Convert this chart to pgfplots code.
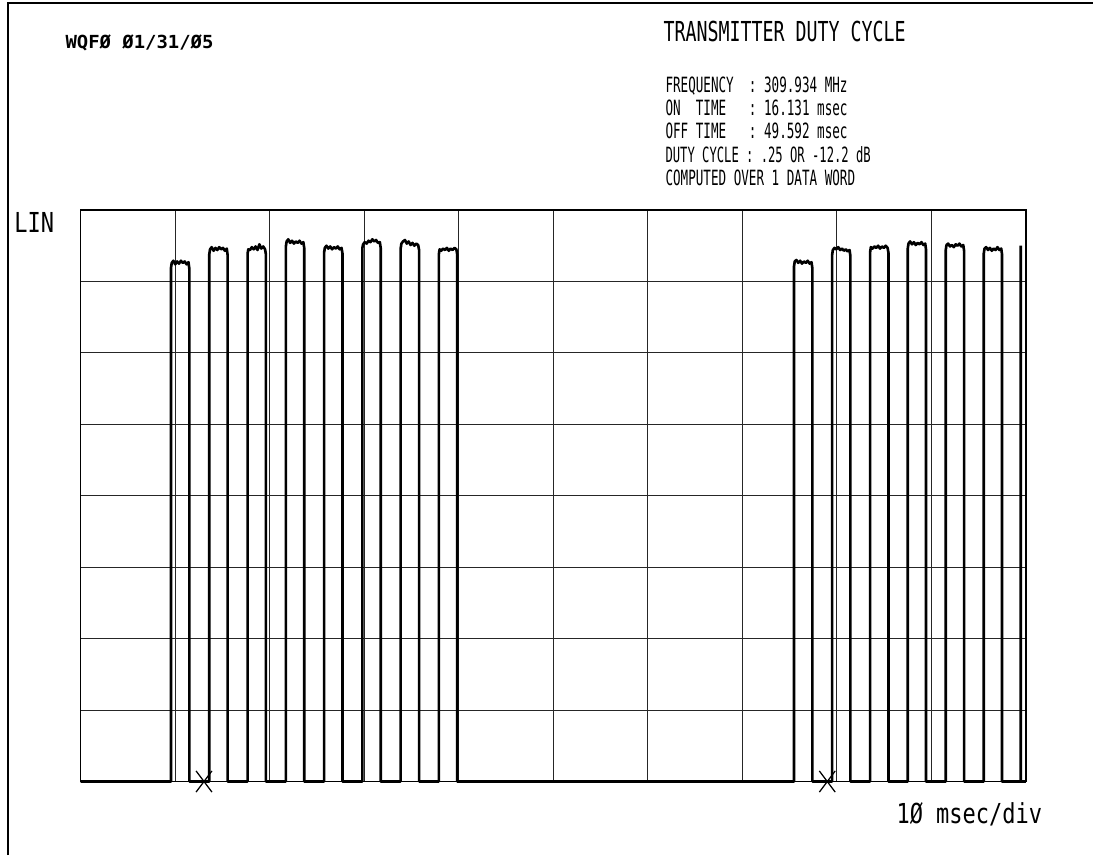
\documentclass[border=0pt]{standalone}
\usepackage{pgfplots}
\pgfplotsset{compat=1.18}
\usepackage{graphicx}
\usepackage{fontspec}
\newfontfamily\mono{DejaVu Sans Mono}
\newfontfamily\monob{DejaVu Sans Mono Bold}
\newcommand{\txt}[3]{\scalebox{#2}[1]{\mono\fontsize{#1}{#1}\selectfont #3}}
\begin{document}
\begin{tikzpicture}[x=0.4pt,y=0.4pt]
\useasboundingbox (0,0) rectangle (1093,855);
% page border
\draw[line width=0.8pt] (8,0) -- (8,852) -- (1093,852);
% texts
\node[anchor=base west,inner sep=0pt] at (65,806) {\scalebox{1.05}[1]{\monob\fontsize{7.2}{7.2}\selectfont WQFØ Ø1/31/Ø5}};
\node[anchor=base west,inner sep=0pt] at (663,813) {\txt{11}{0.665}{TRANSMITTER DUTY CYCLE}};
\node[anchor=base west,inner sep=0pt] at (665,762) {\txt{8.4}{0.6}{FREQUENCY~~:~309.934~MHz}};
\node[anchor=base west,inner sep=0pt] at (665,739) {\txt{8.4}{0.6}{ON~~TIME~~~:~16.131~msec}};
\node[anchor=base west,inner sep=0pt] at (665,716) {\txt{8.4}{0.6}{OFF~TIME~~~:~49.592~msec}};
\node[anchor=base west,inner sep=0pt] at (665,692) {\txt{8.4}{0.58}{DUTY~CYCLE~:~.25~OR~-12.2~dB}};
\node[anchor=base west,inner sep=0pt] at (665,669) {\txt{8.4}{0.6}{COMPUTED~OVER~1~DATA~WORD}};
\node[anchor=base west,inner sep=0pt] at (14,623) {\txt{11}{0.8}{LIN}};
\node[anchor=base west,inner sep=0pt] at (896,32) {\txt{11}{0.8}{1Ø~msec/div}};
\begin{axis}[
  at={(32.2pt,29.4pt)}, anchor=south west,
  scale only axis, width=378.2pt, height=228.6pt,
  xmin=0, xmax=100, ymin=0, ymax=8,
  xtick={0,10,...,100}, ytick={0,1,...,8},
  xticklabels={}, yticklabels={},
  major tick length=0pt,
  grid=major, grid style={line width=0.4pt, black!85},
  axis line style={line width=0.5pt},
  clip=false,
]
\addplot[black, line width=1.05pt, line join=round] coordinates {
(0,0)
(9.57,0) (9.57,7.19) (9.65,7.26) (9.82,7.29) (10.02,7.24) (10.22,7.28) (10.42,7.25) (10.62,7.29) (10.82,7.26) (11.02,7.28) (11.22,7.24) (11.42,7.27) (11.51,7.18) (11.51,0)
(13.62,0) (13.62,7.38) (13.70,7.45) (13.87,7.48) (14.07,7.43) (14.27,7.47) (14.47,7.44) (14.67,7.48) (14.87,7.45) (15.07,7.47) (15.27,7.43) (15.47,7.46) (15.56,7.37) (15.56,0)
(17.67,0) (17.67,7.39) (17.75,7.45) (17.92,7.44) (18.12,7.48) (18.32,7.45) (18.52,7.49) (18.72,7.44) (18.92,7.52) (19.12,7.46) (19.32,7.49) (19.52,7.45) (19.61,7.38) (19.61,0)
(21.72,0) (21.72,7.49) (21.80,7.56) (21.97,7.59) (22.17,7.54) (22.37,7.57) (22.57,7.53) (22.77,7.56) (22.97,7.54) (23.17,7.57) (23.37,7.53) (23.57,7.55) (23.66,7.47) (23.66,0)
(25.76,0) (25.76,7.40) (25.84,7.47) (26.01,7.50) (26.21,7.46) (26.41,7.49) (26.61,7.45) (26.81,7.48) (27.01,7.46) (27.21,7.49) (27.41,7.45) (27.61,7.47) (27.71,7.39) (27.71,0)
(29.81,0) (29.81,7.47) (29.89,7.52) (30.06,7.55) (30.26,7.53) (30.46,7.57) (30.66,7.55) (30.86,7.59) (31.06,7.56) (31.26,7.58) (31.46,7.54) (31.66,7.55) (31.76,7.46) (31.76,0)
(33.86,0) (33.86,7.46) (33.94,7.53) (34.11,7.56) (34.31,7.58) (34.51,7.53) (34.71,7.56) (34.91,7.51) (35.11,7.54) (35.31,7.50) (35.51,7.53) (35.71,7.51) (35.81,7.44) (35.81,0)
(37.90,0) (37.90,7.38) (37.98,7.45) (38.15,7.43) (38.35,7.46) (38.55,7.44) (38.75,7.47) (38.95,7.43) (39.15,7.46) (39.35,7.44) (39.55,7.47) (39.75,7.45) (39.85,7.37) (39.85,0)
(75.46,0) (75.46,7.21) (75.54,7.28) (75.71,7.30) (75.91,7.26) (76.11,7.29) (76.31,7.25) (76.51,7.28) (76.71,7.26) (76.91,7.29) (77.11,7.25) (77.31,7.27) (77.40,7.19) (77.40,0)
(79.49,0) (79.49,7.37) (79.57,7.44) (79.74,7.47) (79.94,7.45) (80.14,7.48) (80.34,7.44) (80.54,7.46) (80.74,7.43) (80.94,7.45) (81.14,7.42) (81.34,7.44) (81.42,7.36) (81.42,0)
(83.51,0) (83.51,7.41) (83.59,7.48) (83.76,7.46) (83.96,7.49) (84.16,7.47) (84.36,7.50) (84.56,7.46) (84.76,7.49) (84.96,7.47) (85.16,7.50) (85.36,7.47) (85.45,7.40) (85.45,0)
(87.49,0) (87.49,7.46) (87.57,7.53) (87.74,7.56) (87.94,7.52) (88.14,7.55) (88.34,7.51) (88.54,7.54) (88.74,7.52) (88.94,7.55) (89.14,7.51) (89.34,7.53) (89.42,7.45) (89.42,0)
(91.51,0) (91.51,7.44) (91.59,7.51) (91.76,7.53) (91.96,7.49) (92.16,7.51) (92.36,7.48) (92.56,7.52) (92.76,7.50) (92.96,7.53) (93.16,7.49) (93.36,7.51) (93.45,7.43) (93.45,0)
(95.53,0) (95.53,7.39) (95.61,7.46) (95.78,7.48) (95.98,7.44) (96.18,7.47) (96.38,7.43) (96.58,7.46) (96.78,7.44) (96.98,7.48) (97.18,7.44) (97.38,7.46) (97.46,7.38) (97.46,0)
(99.44,0) (99.44,7.50)
};
\addplot[black, line width=1.05pt] coordinates {(99.44,0) (100,0)};
\addplot[only marks, mark=x, mark size=6pt, mark options={xscale=0.75, line width=0.5pt, black}] coordinates {(13.06,0) (78.98,0)};
\end{axis}
\end{tikzpicture}
\end{document}
